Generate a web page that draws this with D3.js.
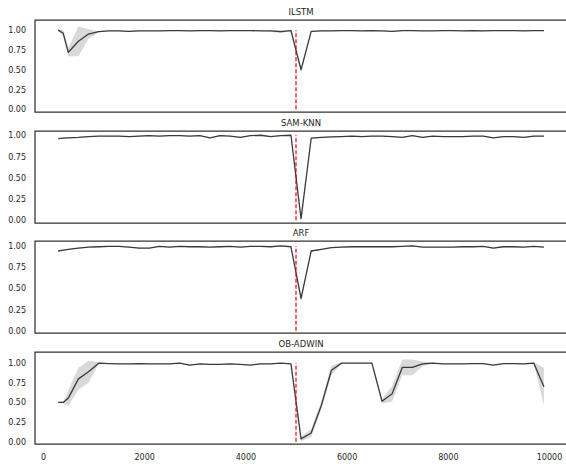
<!DOCTYPE html>
<html>
<head>
<meta charset="utf-8">
<script src="https://cdn.jsdelivr.net/npm/d3@7"></script>
<style>
  body { margin: 0; background: #fff; }
  text { font-family: "DejaVu Sans", sans-serif; fill: #262626; }
</style>
</head>
<body>
<div id="chart"></div>
<script>
// sample positions (x axis)
const steps = [300, 400, 500, 700, 900, 1100, 1300, 1500, 1700, 1900, 2100, 2300, 2500, 2700, 2900,
  3100, 3300, 3500, 3700, 3900, 4100, 4300, 4500, 4700, 4900, 5100, 5300, 5500, 5700, 5900,
  6100, 6300, 6500, 6700, 6900, 7100, 7300, 7500, 7700, 7900, 8100, 8300, 8500, 8700, 8900,
  9100, 9300, 9500, 9700, 9900];

const models = ["ILSTM", "SAM-KNN", "ARF", "OB-ADWIN"];

const ilstm = [1.0, 0.96, 0.72, 0.86, 0.95, 0.98, 0.99, 0.99, 0.985, 0.99, 0.99, 0.99, 0.995, 0.995, 0.99,
  0.995, 0.995, 0.99, 0.995, 0.995, 0.995, 0.99, 0.99, 0.98, 0.995, 0.5, 0.985, 0.99, 0.99, 0.995,
  0.995, 0.99, 0.995, 0.99, 0.985, 0.995, 0.995, 0.99, 0.99, 0.995, 0.995, 0.99, 0.995, 0.99, 0.995,
  0.995, 0.995, 0.99, 0.995, 0.995];
const ilstmCi = [0.01, 0.04, 0.05, 0.19, 0.06, 0.01, 0.005, 0.005, 0.005, 0.005, 0.005, 0.005, 0.005, 0.005, 0.005,
  0.005, 0.005, 0.005, 0.005, 0.005, 0.005, 0.005, 0.01, 0.02, 0.005, 0.01, 0.005, 0.005, 0.005, 0.005,
  0.005, 0.005, 0.005, 0.005, 0.005, 0.005, 0.005, 0.005, 0.005, 0.005, 0.005, 0.005, 0.005, 0.005, 0.005,
  0.005, 0.005, 0.005, 0.005, 0.005];

const samknn = [0.96, 0.965, 0.97, 0.975, 0.985, 0.99, 0.99, 0.99, 0.985, 0.99, 0.995, 0.99, 0.995, 0.995, 0.99,
  0.995, 0.97, 0.995, 0.99, 0.975, 0.995, 1.0, 0.985, 0.995, 1.0, 0.02, 0.965, 0.975, 0.98, 0.985,
  0.99, 0.985, 0.99, 0.99, 0.985, 0.975, 0.995, 0.975, 0.99, 0.985, 0.985, 0.985, 0.99, 0.99, 0.97,
  0.985, 0.985, 0.975, 0.99, 0.99];
const samknnCi = [0.005, 0.005, 0.005, 0.005, 0.005, 0.005, 0.005, 0.005, 0.005, 0.005, 0.005, 0.005, 0.005, 0.005, 0.005,
  0.005, 0.005, 0.005, 0.005, 0.005, 0.005, 0.005, 0.005, 0.005, 0.005, 0.01, 0.005, 0.005, 0.005, 0.005,
  0.005, 0.005, 0.005, 0.005, 0.005, 0.005, 0.005, 0.005, 0.005, 0.005, 0.005, 0.005, 0.005, 0.005, 0.005,
  0.005, 0.005, 0.005, 0.005, 0.005];

const arf = [0.94, 0.95, 0.96, 0.975, 0.985, 0.99, 0.995, 0.995, 0.985, 0.975, 0.975, 0.995, 0.985, 0.995, 0.99,
  0.99, 0.985, 0.99, 0.995, 0.985, 0.995, 0.995, 0.99, 1.0, 0.99, 0.38, 0.94, 0.96, 0.98, 0.985,
  0.99, 0.99, 0.99, 0.99, 0.99, 0.995, 1.0, 0.985, 0.985, 0.985, 0.985, 0.99, 0.99, 0.995, 0.975,
  0.99, 0.99, 0.985, 0.995, 0.985];
const arfCi = [0.01, 0.005, 0.005, 0.005, 0.005, 0.005, 0.005, 0.005, 0.005, 0.005, 0.005, 0.005, 0.005, 0.005, 0.005,
  0.005, 0.005, 0.005, 0.005, 0.005, 0.005, 0.005, 0.005, 0.005, 0.005, 0.03, 0.01, 0.005, 0.005, 0.005,
  0.005, 0.005, 0.005, 0.005, 0.005, 0.005, 0.005, 0.005, 0.005, 0.005, 0.005, 0.005, 0.005, 0.005, 0.005,
  0.005, 0.005, 0.005, 0.005, 0.005];

const obadwin = [0.5, 0.5, 0.555, 0.8, 0.89, 1.0, 0.995, 0.99, 0.99, 0.995, 0.99, 0.99, 0.99, 1.0, 0.975,
  0.99, 0.985, 0.985, 0.99, 0.985, 0.975, 0.99, 0.99, 1.0, 0.99, 0.035, 0.11, 0.46, 0.91, 1.0,
  1.0, 1.0, 1.0, 0.515, 0.61, 0.945, 0.945, 0.99, 1.0, 0.99, 0.99, 0.99, 0.995, 0.995, 0.975,
  0.995, 0.995, 0.99, 1.0, 0.7];
const obadwinCi = [0.01, 0.01, 0.1, 0.14, 0.14, 0.01, 0.005, 0.005, 0.005, 0.005, 0.005, 0.005, 0.005, 0.005, 0.005,
  0.005, 0.005, 0.005, 0.005, 0.005, 0.005, 0.005, 0.005, 0.005, 0.005, 0.03, 0.05, 0.05, 0.06, 0.005,
  0.005, 0.005, 0.005, 0.03, 0.1, 0.1, 0.1, 0.03, 0.005, 0.005, 0.005, 0.005, 0.005, 0.005, 0.005,
  0.005, 0.005, 0.005, 0.01, 0.24];

// y limits of each panel (each axis autoscaled on its own)
const yLimits = [[-0.034, 1.128], [-0.032, 1.05], [-0.027, 1.058], [-0.03, 1.142]];
const yTicks = [0, 0.25, 0.5, 0.75, 1.0];
const xTicks = [0, 2000, 4000, 6000, 8000, 10000];
const driftAt = 5000;

const series = [ilstm, samknn, arf, obadwin];
const bands = [ilstmCi, samknnCi, arfCi, obadwinCi];

const svgWidth = 566, svgHeight = 464;
const panelTops = [20, 131, 241, 352];
const panelHeight = 92;
const left = 35, right = 567;

const svg = d3.select("#chart").append("svg")
  .attr("width", svgWidth)
  .attr("height", svgHeight);

const x = d3.scaleLinear().domain([0, 10000]).range([43, 549]);

models.forEach((name, i) => {
  const top = panelTops[i];
  const y = d3.scaleLinear().domain(yLimits[i]).range([top + panelHeight, top]);
  const rows = steps.map((s, j) => ({ s: s, v: series[i][j], ci: bands[i][j] }));
  const g = svg.append("g");

  // confidence band
  g.append("path")
    .datum(rows)
    .attr("fill", "#000")
    .attr("fill-opacity", 0.15)
    .attr("d", d3.area()
      .x(d => x(d.s))
      .y0(d => y(d.v - d.ci))
      .y1(d => y(d.v + d.ci)));

  g.append("path")
    .datum(rows)
    .attr("fill", "none")
    .attr("stroke", "#3a3a3a")
    .attr("stroke-width", 1.3)
    .attr("stroke-linejoin", "round")
    .attr("d", d3.line().x(d => x(d.s)).y(d => y(d.v)));

  // drift marker
  g.append("line")
    .attr("x1", x(driftAt)).attr("x2", x(driftAt))
    .attr("y1", y(0)).attr("y2", y(1))
    .attr("stroke", "#e8000b")
    .attr("stroke-width", 1.2)
    .attr("stroke-dasharray", "4,2");

  // y axis labels, no tick marks
  const yAxis = g.append("g")
    .attr("transform", `translate(${left},0)`)
    .call(d3.axisLeft(y).tickValues(yTicks).tickFormat(d3.format(".2f")).tickSize(0).tickPadding(9));
  yAxis.select(".domain").remove();
  yAxis.selectAll("text").style("font-size", "8px").attr("fill", "#262626");

  // spines: left, top, bottom
  g.append("path")
    .attr("fill", "none")
    .attr("stroke", "#333")
    .attr("stroke-width", 1.25)
    .attr("d", `M${right},${top}H${left}V${top + panelHeight}H${right}`);

  g.append("text")
    .attr("x", (left + right) / 2)
    .attr("y", top - 5)
    .attr("text-anchor", "middle")
    .style("font-size", "8.5px")
    .text(name);

  if (i === models.length - 1) {
    const xAxis = g.append("g")
      .attr("transform", `translate(0,${top + panelHeight})`)
      .call(d3.axisBottom(x).tickValues(xTicks).tickFormat(d3.format("d")).tickSize(0).tickPadding(10));
    xAxis.select(".domain").remove();
    xAxis.selectAll("text").style("font-size", "8px").attr("fill", "#262626");
  }
});
</script>
</body>
</html>
